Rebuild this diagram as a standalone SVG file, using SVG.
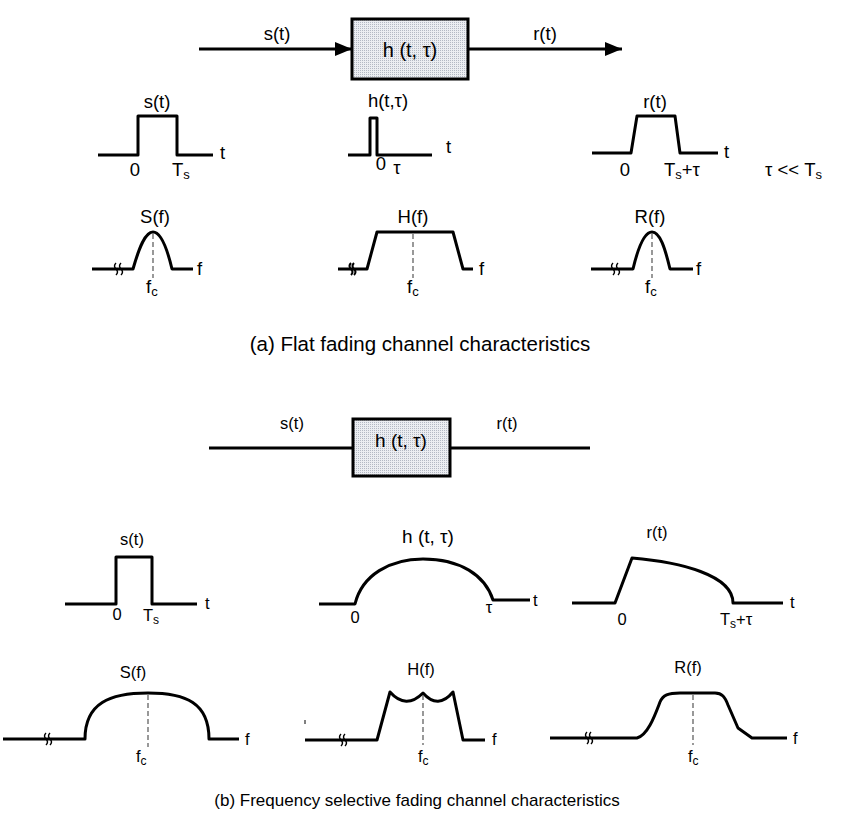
<svg xmlns="http://www.w3.org/2000/svg" width="845" height="817" viewBox="0 0 845 817">
<defs>
<pattern id="dots" width="2" height="2" patternUnits="userSpaceOnUse">
<rect width="2" height="2" fill="#eceef2"/>
<rect width="1" height="1" fill="#b4b9c4"/>
</pattern>
<marker id="arr" markerWidth="18" markerHeight="14" refX="17" refY="7" orient="auto" markerUnits="userSpaceOnUse">
<path d="M0,0 L17,7 L0,14 Z" fill="#000"/>
</marker>
</defs>
<style>
text{font-family:"Liberation Sans",Arial,sans-serif;fill:#000}
.a{font-size:18.5px}
.t{font-size:18.5px}
.bx{font-size:20px}
.b{font-size:16.5px}
.hb{font-size:19px}
.capa{font-size:20.5px}
.capb{font-size:17px}
.m{text-anchor:middle}
.w{fill:none;stroke:#000;stroke-width:3;stroke-linejoin:round}
.ln{fill:none;stroke:#000;stroke-width:3}
.d{fill:none;stroke:#555;stroke-width:1.2;stroke-dasharray:5,3}
.brk{fill:none;stroke:#000;stroke-width:1.4}
.box{fill:url(#dots);stroke:#000;stroke-width:3}
</style>

<g id="connectors">
<line class="ln" x1="199" y1="49" x2="352" y2="49" marker-end="url(#arr)"/>
<line class="ln" x1="468" y1="49" x2="622" y2="49" marker-end="url(#arr)"/>
<line class="ln" x1="209" y1="448" x2="353" y2="448"/>
<line class="ln" x1="450" y1="448" x2="590" y2="448"/>
</g>

<g id="channel-a">
<rect class="box" x="352" y="19" width="116" height="60"/>
<text class="bx m" x="410" y="57">h (t, τ)</text>
<text class="t m" x="277" y="40">s(t)</text>
<text class="t m" x="545" y="40">r(t)</text>
</g>

<g id="a-st">
<path class="w" d="M98,155 L138,155 L138,116 L177,116 L177,155 L213,155"/>
<text class="a m" x="157" y="108">s(t)</text>
<text class="a" x="220" y="159">t</text>
<text class="a m" x="135" y="176">0</text>
<text class="a" x="172" y="176">T<tspan font-size="13" dy="3">s</tspan></text>
</g>

<g id="a-ht">
<path class="w" d="M348,155 L370,155 L370,118 L377,118 L377,155 L432,155"/>
<text class="a m" x="388" y="107">h(t,τ)</text>
<text class="a" x="446" y="153">t</text>
<text class="a m" x="381" y="170">0</text>
<text class="a m" x="397" y="174">τ</text>
</g>

<g id="a-rt">
<path class="w" d="M592,153 L631,153 L637,116 L675,116 L680,153 L718,153"/>
<text class="a m" x="655" y="108">r(t)</text>
<text class="a" x="724" y="158">t</text>
<text class="a m" x="625" y="176">0</text>
<text class="a" x="664" y="176">T<tspan font-size="13" dy="3">s</tspan><tspan dy="-3">+τ</tspan></text>
<text class="a" x="765" y="176">τ &lt;&lt; T<tspan font-size="13" dy="3">s</tspan></text>
</g>

<g id="a-Sf">
<path class="w" d="M92,269 L133,269 C139,248 145,232 153,232 C161,232 167,248 172,269 L193,269"/>
<path class="brk" d="M116,263 q-3,3 0,6 q3,3 0,6 M121,263 q-3,3 0,6 q3,3 0,6"/>
<line class="d" x1="153" y1="234" x2="153" y2="278"/>
<text class="a m" x="155" y="223">S(f)</text>
<text class="a" x="197" y="275">f</text>
<text class="a" x="146" y="293">f<tspan font-size="13" dy="3">c</tspan></text>
</g>

<g id="a-Hf">
<path class="w" d="M338,269 L367,269 L377,232 L453,232 L463,269 L473,269"/>
<path class="brk" style="stroke-width:2" d="M351,263 q-3,3 0,6 q3,3 0,6 M354,263 q-3,3 0,6 q3,3 0,6"/>
<line class="d" x1="413" y1="234" x2="413" y2="278"/>
<text class="a m" x="413" y="223">H(f)</text>
<text class="a" x="479" y="275">f</text>
<text class="a" x="407" y="293">f<tspan font-size="13" dy="3">c</tspan></text>
</g>

<g id="a-Rf">
<path class="w" d="M591,269 L633,269 C638,248 644,232 652,232 C660,232 665,248 670,269 L693,269"/>
<path class="brk" d="M613,263 q-3,3 0,6 q3,3 0,6 M618,263 q-3,3 0,6 q3,3 0,6"/>
<line class="d" x1="652" y1="234" x2="652" y2="278"/>
<text class="a m" x="650" y="223">R(f)</text>
<text class="a" x="696" y="275">f</text>
<text class="a" x="645" y="293">f<tspan font-size="13" dy="3">c</tspan></text>
</g>

<text class="capa m" x="420" y="351">(a) Flat fading channel characteristics</text>

<g id="channel-b">
<rect class="box" x="353" y="419" width="97" height="57"/>
<text class="hb m" x="401" y="447">h (t, τ)</text>
<text class="b m" x="292" y="429">s(t)</text>
<text class="b m" x="507" y="429">r(t)</text>
</g>

<g id="b-st">
<path class="w" d="M65,604 L116,604 L116,557 L152,557 L152,604 L197,604"/>
<text class="b m" x="132" y="545">s(t)</text>
<text class="b" x="205" y="609">t</text>
<text class="b m" x="117" y="620">0</text>
<text class="b" x="143" y="621">T<tspan font-size="12" dy="3">s</tspan></text>
</g>

<g id="b-ht">
<path class="w" d="M319,604 L355,604 C362,575 390,559 423,559 C460,559 485,575 493,600 L530,600"/>
<text class="hb m" x="428" y="543">h (t, τ)</text>
<text class="b" x="533" y="606">t</text>
<text class="b m" x="355" y="623">0</text>
<text class="b m" x="489" y="613">τ</text>
</g>

<g id="b-rt">
<path class="w" d="M572,603 L615,603 L632,558 C680,562 733,575 733,603 L783,603"/>
<text class="b m" x="657" y="538">r(t)</text>
<text class="b" x="790" y="608">t</text>
<text class="b m" x="622" y="625">0</text>
<text class="b" x="720" y="625">T<tspan font-size="12" dy="3">s</tspan><tspan dy="-3">+τ</tspan></text>
</g>

<g id="b-Sf">
<path class="w" d="M3,739 L85,739 C85,703 110,693 148,693 C186,693 209,703 209,739 L239,739"/>
<path class="brk" d="M46,733 q-3,3 0,6 q3,3 0,6 M50,733 q-3,3 0,6 q3,3 0,6"/>
<line class="d" x1="148" y1="695" x2="148" y2="747"/>
<text class="b m" x="133" y="678">S(f)</text>
<text class="b" x="245" y="745">f</text>
<text class="b" x="136" y="762">f<tspan font-size="12" dy="3">c</tspan></text>
</g>

<g id="b-Hf">
<path class="w" d="M305,740 L377,740 L390,692 Q406,710 423,693 Q438,710 453,692 L463,740 L485,740"/>
<line x1="305" y1="720" x2="305" y2="724" stroke="#000" stroke-width="1"/>
<path class="brk" d="M341,734 q-3,3 0,6 q3,3 0,6 M345,734 q-3,3 0,6 q3,3 0,6"/>
<line class="d" x1="423" y1="695" x2="423" y2="745"/>
<text class="b m" x="421" y="675">H(f)</text>
<text class="b" x="492" y="745">f</text>
<text class="b" x="418" y="762">f<tspan font-size="12" dy="3">c</tspan></text>
</g>

<g id="b-Rf">
<path class="w" d="M550,738 L637,738 C648,735 655,715 660,702 C663,695 668,693 680,693 L715,693 C722,693 725,697 728,705 L738,728 L752,738 L787,738"/>
<path class="brk" d="M587,732 q-3,3 0,6 q3,3 0,6 M591,732 q-3,3 0,6 q3,3 0,6"/>
<line class="d" x1="693" y1="695" x2="693" y2="745"/>
<text class="b m" x="688" y="673">R(f)</text>
<text class="b" x="793" y="744">f</text>
<text class="b" x="688" y="762">f<tspan font-size="12" dy="3">c</tspan></text>
</g>

<text class="capb m" x="417" y="806">(b) Frequency selective fading channel characteristics</text>
</svg>
